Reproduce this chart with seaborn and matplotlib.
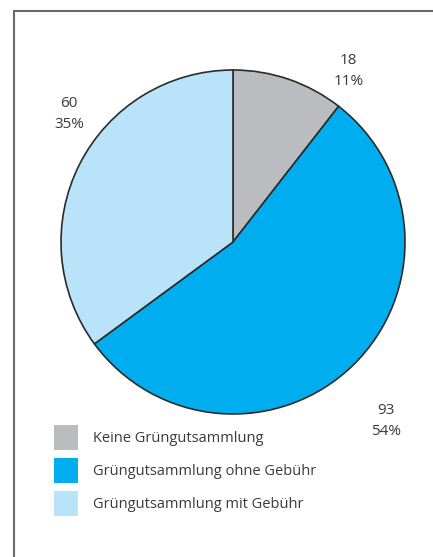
import numpy as np
import matplotlib
matplotlib.use("Agg")
import matplotlib.pyplot as plt
import matplotlib.patches as mpatches
from matplotlib.lines import Line2D
import seaborn as sns

# data
categories = ["Keine Grüngutsammlung", "Grüngutsammlung ohne Gebühr", "Grüngutsammlung mit Gebühr"]
counts = [18, 93, 60]
colors = ["#BBBCC0", "#00AEEF", "#B9E3F9"]

sns.set_theme(style="white")
plt.rcParams['font.family'] = ['Open Sans', 'DejaVu Sans']
text_color = "#3a3a3a"

W, H = 433, 557
fig = plt.figure(figsize=(W / 100, H / 100), dpi=100)

# pie axes: centre (233, 242) px, radius 172 px
cx, cy, r = 233, 242, 172
ax = fig.add_axes([(cx - r) / W, (H - cy - r) / H, 2 * r / W, 2 * r / H])

total = sum(counts)
labels = [f"{v}\n{round(v / total * 100)}%" for v in counts]

wedges, texts = ax.pie(counts, colors=colors, startangle=90, counterclock=False,
                       radius=1, labels=labels, labeldistance=1.2,
                       wedgeprops=dict(edgecolor="#2b2b2b", linewidth=1.2),
                       textprops=dict(color=text_color, fontsize=11,
                                      ha="center", va="center", linespacing=1.5))

# nudge labels to where the reference puts them (angle in degrees, distance in radii)
label_place = [(56, 1.2), (-49.5, 1.37), (142, 1.21)]
for t, (ang, dist) in zip(texts, label_place):
    a = np.deg2rad(ang)
    t.set_position((dist * np.cos(a), dist * np.sin(a)))
    t.set_ha("center")

ax.set_xlim(-1, 1)
ax.set_ylim(-1, 1)
ax.set_aspect("equal")
ax.axis("off")

# legend
handles = [mpatches.Patch(facecolor=c, edgecolor="none") for c in colors]
leg = fig.legend(handles, categories, loc="upper left",
                 bbox_to_anchor=(54 / W, 1 - 425 / H), bbox_transform=fig.transFigure,
                 frameon=False, fontsize=10.5, borderpad=0, borderaxespad=0,
                 handlelength=1.65, handleheight=2.26, handletextpad=1.05,
                 labelspacing=0.55, labelcolor=text_color)

# frame on left and top
lc = "#6a6a6a"
fig.add_artist(Line2D([13.5 / W, 13.5 / W], [0, 1 - 11 / H], color=lc, lw=1.5,
                      transform=fig.transFigure))
fig.add_artist(Line2D([13.5 / W, 1], [1 - 11 / H, 1 - 11 / H], color=lc, lw=1.5,
                      transform=fig.transFigure))

fig.savefig("out.png", dpi=100, facecolor="white")
